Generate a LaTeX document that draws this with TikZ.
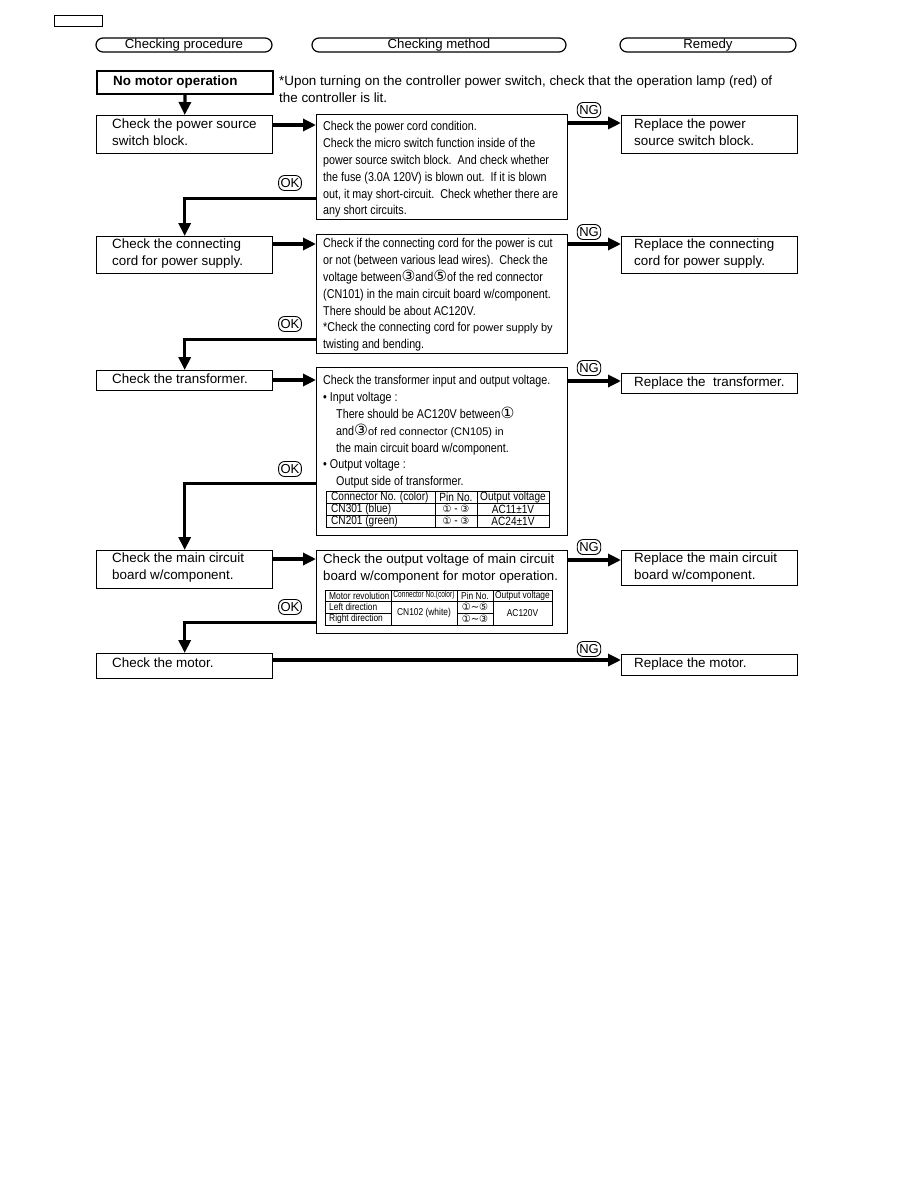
\documentclass[tikz,border=0pt]{standalone}
\usepackage{fontspec}
\setmainfont{Liberation Sans}
\newfontfamily\cndfont[FakeStretch=0.84]{Liberation Sans}
\newfontfamily\cndxfont[FakeStretch=0.7]{Liberation Sans}
\newfontfamily\symfont{DejaVu Sans}
\usetikzlibrary{arrows.meta}
\newcommand{\cn}[1]{{\symfont\fontsize{15.5}{16.8}\selectfont #1}}
\newcommand{\tn}[1]{{\symfont\fontsize{10}{10}\selectfont #1}}
\newcommand{\rg}[1]{{\rmfamily\fontsize{11}{16.8}\selectfont #1}}
\tikzset{
  box/.style={draw, line width=1.4pt, inner sep=0pt, anchor=north west},
  txt/.style={inner sep=0pt, align=left, anchor=north west, font=\fontsize{13.4}{16.8}\selectfont},
  mtxt/.style={inner sep=0pt, align=left, anchor=north west, font=\cndfont\fontsize{12.8}{16.8}\selectfont},
  arr/.style={line width=3.2pt, -{Triangle[length=13pt,width=12pt]}},
  tag/.style={draw, line width=0.9pt, rounded corners=6pt, inner xsep=2pt, inner ysep=1.5pt, minimum height=15pt, font=\fontsize{13}{13}\selectfont},
  pill/.style={draw, line width=1.2pt, rounded corners=7pt, minimum height=14pt, inner sep=0pt, font=\fontsize{13.2}{13}\selectfont},
  tl/.style={line width=0.7pt},
  ta/.style={inner sep=0pt, font=\cndfont\fontsize{12}{12}\selectfont},
  tb/.style={inner sep=0pt, font=\cndfont\fontsize{10}{10}\selectfont},
}
\begin{document}
\begin{tikzpicture}[x=1pt,y=-1pt]
\useasboundingbox (0,0) rectangle (918,1188);
% top tab
\node[draw, line width=0.8pt, minimum width=48pt, minimum height=11pt, inner sep=0pt] (tab) at (78,21) {};
% headers
\node[pill, minimum width=176pt] (h1) at (184,45) {Checking procedure};
\node[pill, minimum width=254pt] (h2) at (439,45) {Checking method};
\node[pill, minimum width=176pt] (h3) at (708,45) {Remedy};
% start
\node[box, line width=2pt, minimum width=176pt, minimum height=23pt] (n0) at (96,70) {};
\node[txt, font=\bfseries\fontsize{13.4}{16.8}\selectfont] (n0t) at (113,75.5) {No motor operation};
\node[txt] (note) at (279,75.5) {*Upon turning on the controller power switch, check that the operation lamp (red) of\\the controller is lit.};
% row 1
\node[box, minimum width=176pt, minimum height=38pt] (p1) at (96,115) {};
\node[txt] (p1t) at (112,118.5) {Check the power source\\switch block.};
\node[box, minimum width=251pt, minimum height=105pt] (m1) at (316,114) {};
\node[mtxt] (m1t) at (323,121.5) {Check the power cord condition.\\Check the micro switch function inside of the\\power source switch block.\ \ And check whether\\the fuse (3.0A 120V) is blown out.\ \ If it is blown\\out, it may short-circuit.\ \ Check whether there are\\any short circuits.};
\node[box, minimum width=176pt, minimum height=38pt] (r1) at (621,115) {};
\node[txt] (r1t) at (634,118.5) {Replace the power\\source switch block.};
% row 2
\node[box, minimum width=176pt, minimum height=37pt] (p2) at (96,236) {};
\node[txt] (p2t) at (112,239) {Check the connecting\\cord for power supply.};
\node[box, minimum width=251pt, minimum height=119pt] (m2) at (316,234) {};
\node[mtxt] (m2t) at (323,238.5) {Check if the connecting cord for the power is cut\\or not (between various lead wires).\ \ Check the\\voltage between\cn{③}and\cn{⑤}of the red connector\\(CN101) in the main circuit board w/component.\\There should be about AC120V.\\*Check the connecting cord for \rg{power supply by}\\twisting and bending.};
\node[box, minimum width=176pt, minimum height=37pt] (r2) at (621,236) {};
\node[txt] (r2t) at (634,239) {Replace the connecting\\cord for power supply.};
% row 3
\node[box, minimum width=176pt, minimum height=20pt] (p3) at (96,370) {};
\node[txt] (p3t) at (112,374) {Check the transformer.};
\node[box, minimum width=251pt, minimum height=168pt] (m3) at (316,367) {};
\node[mtxt] (m3t) at (323,375.5) {Check the transformer input and output voltage.\\\textbullet\ Input voltage :\\\hspace*{13pt}There should be AC120V between\cn{①}\\\hspace*{13pt}and\cn{③}\rg{of red connector (CN105) in}\\\hspace*{13pt}the main circuit board w/component.\\\textbullet\ Output voltage :\\\hspace*{13pt}Output side of transformer.};
\node[box, minimum width=176pt, minimum height=20pt] (r3) at (621,373) {};
\node[txt] (r3t) at (634,377) {Replace the\ \ transformer.};
% table 1
\draw[tl] (326,491) rectangle (549,527);
\draw[tl] (326,503) -- (549,503) (326,515) -- (549,515);
\draw[tl] (435,491) -- (435,527) (477,491) -- (477,527);
\node[ta, anchor=west] (t11) at (331,497) {Connector No. (color)};
\node[ta] (t12) at (456,497) {Pin No.};
\node[ta] (t13) at (513,497) {Output voltage};
\node[ta, anchor=west] (t21) at (331,509) {CN301 (blue)};
\node[ta] (t22) at (456,509) {\tn{①} - \tn{③}};
\node[ta] (t23) at (513,509) {AC11±1V};
\node[ta, anchor=west] (t31) at (331,521) {CN201 (green)};
\node[ta] (t32) at (456,521) {\tn{①} - \tn{③}};
\node[ta] (t33) at (513,521) {AC24±1V};
% row 4
\node[box, minimum width=176pt, minimum height=38pt] (p4) at (96,550) {};
\node[txt] (p4t) at (112,553) {Check the main circuit\\board w/component.};
\node[box, minimum width=251pt, minimum height=83pt] (m4) at (316,550) {};
\node[txt, font=\fontsize{13.2}{17}\selectfont] (m4t) at (323,553.3) {Check the output voltage of main circuit\\board w/component for motor operation.};
\node[box, minimum width=176pt, minimum height=35pt] (r4) at (621,550) {};
\node[txt] (r4t) at (634,553) {Replace the main circuit\\board w/component.};
% table 2
\draw[tl] (325,590) rectangle (552,625);
\draw[tl] (325,601) -- (552,601) (325,613) -- (391,613) (457,613) -- (493,613);
\draw[tl] (391,590) -- (391,625) (457,590) -- (457,625) (493,590) -- (493,625);
\node[tb, anchor=west] (u11) at (329,595.5) {Motor revolution};
\node[tb, font=\cndxfont\fontsize{9.4}{10}\selectfont] (u12) at (424,595.5) {Connector No.(color)};
\node[tb] (u13) at (475,595.5) {Pin No.};
\node[tb] (u14) at (522.5,595.5) {Output voltage};
\node[tb, anchor=west] (u21) at (329,607) {Left direction};
\node[tb, anchor=west] (u31) at (329,619) {Right direction};
\node[tb] (u22) at (424,613) {CN102 (white)};
\node[tb] (u23) at (475,607) {\tn{①∼⑤}};
\node[tb] (u33) at (475,619) {\tn{①∼③}};
\node[tb] (u24) at (522.5,613) {AC120V};
% row 5
\node[box, minimum width=176pt, minimum height=25pt] (p5) at (96,653) {};
\node[txt] (p5t) at (112,658) {Check the motor.};
\node[box, minimum width=176pt, minimum height=21pt] (r5) at (621,654) {};
\node[txt] (r5t) at (634,658) {Replace the motor.};
% connectors
\draw[arr] (n0.south) -- (p1.north);
\coordinate (a1) at ([yshift=-11pt]m1.north west);
\draw[arr] (p1.east |- a1) -- (a1);
\coordinate (g1) at ([yshift=-8pt]r1.north west);
\draw[arr] (m1.east |- g1) -- (g1);
\coordinate (k1) at ([yshift=22pt]m1.south west);
\draw[arr] (k1) -| (p2.north);
\coordinate (a2) at ([yshift=-10pt]m2.north west);
\draw[arr] (p2.east |- a2) -- (a2);
\coordinate (g2) at ([yshift=-8pt]r2.north west);
\draw[arr] (m2.east |- g2) -- (g2);
\coordinate (k2) at ([yshift=15pt]m2.south west);
\draw[arr] (k2) -| (p3.north);
\coordinate (a3) at ([yshift=-13pt]m3.north west);
\draw[arr] (p3.east |- a3) -- (a3);
\coordinate (g3) at ([yshift=-8pt]r3.north west);
\draw[arr] (m3.east |- g3) -- (g3);
\coordinate (k3) at ([yshift=53pt]m3.south west);
\draw[arr] (k3) -| (p4.north);
\coordinate (a4) at ([yshift=-9pt]m4.north west);
\draw[arr] (p4.east |- a4) -- (a4);
\coordinate (g4) at ([yshift=-10pt]r4.north west);
\draw[arr] (m4.east |- g4) -- (g4);
\coordinate (k4) at ([yshift=12pt]m4.south west);
\draw[arr] (k4) -| (p5.north);
\coordinate (g5) at ([yshift=-6pt]r5.north west);
\draw[arr] (p5.east |- g5) -- (g5);
% tags
\node[tag] (ng1) at (589,110) {NG};
\node[tag] (ng2) at (589,232) {NG};
\node[tag] (ng3) at (589,368) {NG};
\node[tag] (ng4) at (589,547) {NG};
\node[tag] (ng5) at (589,649) {NG};
\node[tag] (ok1) at (290,183) {OK};
\node[tag] (ok2) at (290,324) {OK};
\node[tag] (ok3) at (290,469) {OK};
\node[tag] (ok4) at (290,607) {OK};
\end{tikzpicture}
\end{document}
